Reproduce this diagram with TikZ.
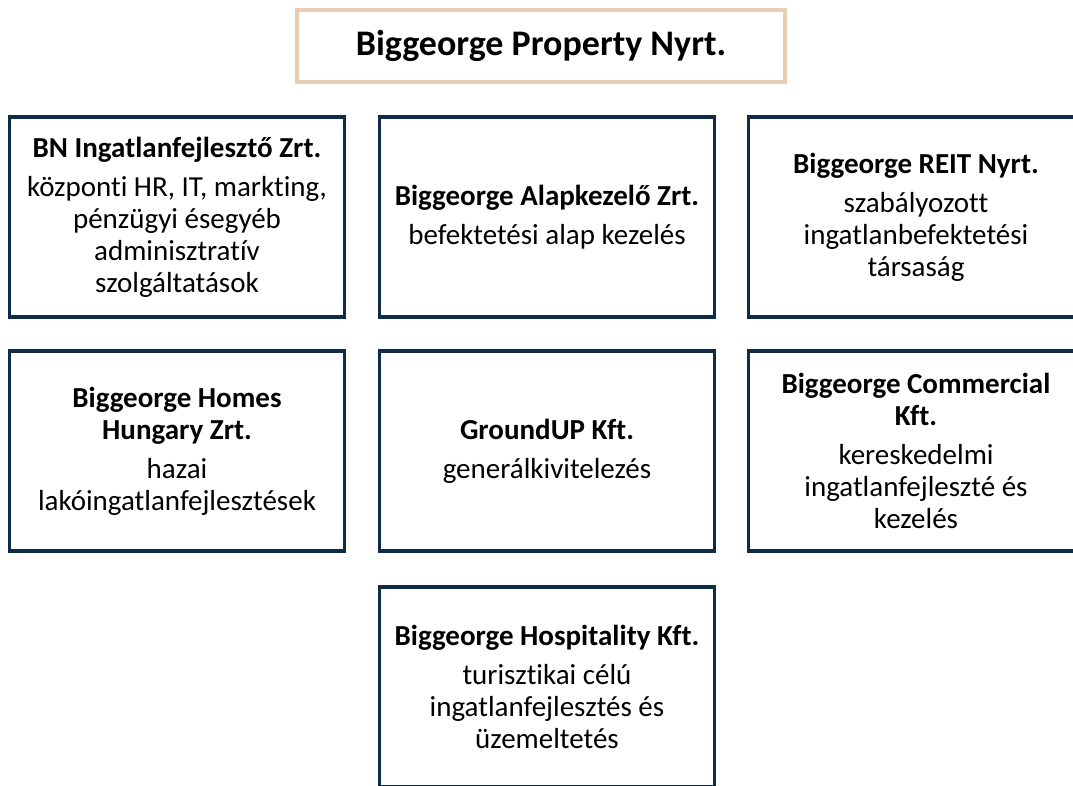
\documentclass[tikz,border=0pt]{standalone}
\usepackage{fontspec}
\setmainfont[Ligatures=NoCommon]{Carlito}

\definecolor{navy}{HTML}{0E2C48}
\definecolor{sand}{HTML}{E6CEB4}

\tikzset{
  holding/.style={draw=sand, line width=4pt, minimum width=488pt,
    minimum height=72pt, inner sep=0pt,
    font=\fontsize{36}{40}\selectfont\bfseries},
  unit/.style={draw=navy, line width=3.5pt, minimum width=335pt,
    minimum height=200pt, inner sep=0pt, align=center,
    font=\fontsize{29}{32}\selectfont},
}

\begin{document}
\begin{tikzpicture}[x=1pt,y=-1pt]
  \useasboundingbox (0,0) rectangle (1073,785);
  \clip (0,0) rectangle (1073,785);

  % Parent company
  \node[holding] (parent) at (541,46) {Biggeorge Property Nyrt.};

  % First row
  \node[unit] (bn) at (177,217) {\textbf{BN Ingatlanfejlesztő Zrt.}\\[7pt]
    központi HR, IT, markting,\\pénzügyi ésegyéb\\adminisztratív\\szolgáltatások};
  \node[unit] (alap) at (547,217) {\textbf{Biggeorge Alapkezelő Zrt.}\\[7pt]
    befektetési alap kezelés};
  \node[unit] (reit) at (916,217) {\textbf{Biggeorge REIT Nyrt.}\\[7pt]
    szabályozott\\ingatlanbefektetési\\társaság};

  % Second row
  \node[unit] (homes) at (177,451) {\textbf{Biggeorge Homes}\\\textbf{Hungary Zrt.}\\[7pt]
    hazai\\lakóingatlanfejlesztések};
  \node[unit] (ground) at (547,451) {\textbf{GroundUP Kft.}\\[7pt]
    generálkivitelezés};
  \node[unit] (comm) at (916,451) {\textbf{Biggeorge Commercial}\\\textbf{Kft.}\\[7pt]
    kereskedelmi\\ingatlanfejleszté és\\kezelés};

  % Third row
  \node[unit] (hosp) at (547,687) {\textbf{Biggeorge Hospitality Kft.}\\[7pt]
    turisztikai célú\\ingatlanfejlesztés és\\üzemeltetés};
\end{tikzpicture}
\end{document}
